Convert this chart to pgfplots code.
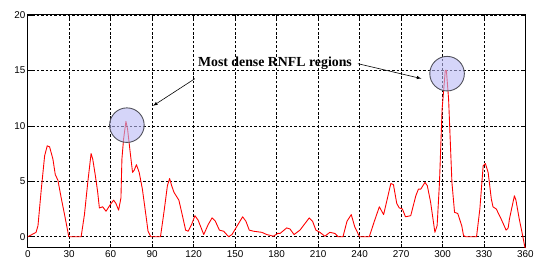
\documentclass[border=0pt]{standalone}
\usepackage{pgfplots}
\pgfplotsset{compat=1.18}
\usepackage{fontspec}
\setmainfont{Liberation Sans}
\newfontfamily\seriffont{Liberation Serif}
\begin{document}
\begin{tikzpicture}
\begin{axis}[
  scale only axis, width=502bp, height=235bp,
  xmin=0, xmax=360, ymin=-1, ymax=20,
  xtick={0,30,...,360}, ytick={0,5,10,15,20},
  grid=major,
  major grid style={black, dashed, line width=0.6pt, dash pattern=on 2.5pt off 2pt},
  axis line style={black, line width=0.8pt},
  tick align=inside, major tick length=4bp,
  tick style={black, line width=0.6pt},
  /pgf/number format/assume math mode=true,
  ticklabel style={font=\fontsize{10}{12}\selectfont},
  xticklabel style={yshift=1bp},
  yticklabel style={xshift=1bp},
  clip=false,
]
\addplot[only marks, mark=*, mark size=17.5,
  mark options={fill={rgb,255:red,185;green,185;blue,245}, fill opacity=0.6, draw={rgb,255:red,80;green,80;blue,90}, line width=0.9pt}]
  coordinates {(71.7,10.06) (303.3,14.7)};
\addplot[red, line width=0.9pt, line join=round] coordinates {
(0,0) (3,0.2) (6,0.4) (7.4,1.0) (9.8,4.3) (12.2,7.3) (14.1,8.2) (15.8,8.1)
(18.2,7.0) (19.9,5.6) (21.8,5.1) (24.2,3.5) (26.6,2.0) (29.7,0) (38.6,0)
(41,2.0) (43.4,4.9) (45.8,7.5) (47,7.0) (48.9,5.5) (50.6,4.0) (51.8,2.6)
(54.2,2.7) (56.6,2.3) (59.7,2.9) (62.1,3.3) (63.8,3.0) (65.7,2.4) (67.4,3.5)
(68.1,7.0) (69.3,8.8) (71,10.4) (72.2,9.7) (74.1,7.6) (75.8,5.8) (77,6.0)
(78.6,6.5) (80.6,5.8) (82.9,4.3) (85.4,2.0) (87,0.5) (89,0) (96,0)
(98.6,2.3) (101,4.6) (102.6,5.25) (104.1,4.6) (105.8,4.0) (109.3,3.3)
(111.7,2.0) (114.2,0.6) (116,0.5) (118.5,1.1) (120.9,1.9) (123.2,1.5)
(127.3,0.2) (130.5,1.1) (133.3,1.7) (135.7,1.4) (138.6,0.6) (141.7,0.5)
(145.3,0) (147.7,0.2) (150.6,0.8) (155.4,1.8) (157.8,1.4) (160.2,0.6)
(163.3,0.5) (169.3,0.4) (172.9,0.2) (177.7,0.05) (180.8,0.3) (182.5,0.3)
(187.3,0.8) (189.7,0.7) (192.6,0.2) (196.9,0.6) (203.6,1.7) (206,1.4)
(208.4,0.6) (211.3,0.4) (214.9,0.05) (218.5,0.4) (222.1,0.3) (224.5,0)
(228,0) (230.9,1.4) (234,2.0) (236.5,0.9) (240,0) (247,0) (250.7,1.4)
(254.3,2.7) (257.4,2.0) (260.2,3.5) (262.6,4.8) (264.5,4.7) (266.9,3.0)
(268.7,2.6) (271,2.5) (273.2,1.8) (277,1.9) (280.7,3.7) (282.6,4.3)
(284.3,4.3) (287.3,4.9) (289,4.6) (291.4,3.1) (294.5,0.4) (296.1,1.0)
(297.8,4.9) (299.7,11.5) (302,15.0) (302.8,15.0) (304.4,12.4) (306.8,4.9)
(308.7,2.2) (311,2.1) (313.9,1.0) (315.2,0.1) (317,0) (324.6,0) (327,2.5)
(329.4,6.4) (331,6.6) (333,5.8) (335.3,3.4) (336.5,2.7) (338.9,2.5)
(342.4,1.6) (346,0.6) (347.5,0.8) (348.4,1.6) (352,3.7) (353.1,3.3)
(355.5,1.6) (357.9,0.15) (359.5,-0.9) (360,-1)
};
\draw[-latex, line width=0.6pt] (axis cs:120.9,14.25) -- (axis cs:90.6,11.8);
\draw[-latex, line width=0.6pt] (axis cs:238.8,15.6) -- (axis cs:284.7,14.26);
\node[font=\seriffont\bfseries\fontsize{14}{16}\selectfont, inner sep=1pt] at (axis cs:178.8,15.6) {Most dense RNFL regions};
\end{axis}
\useasboundingbox (-28bp,-14bp) rectangle (509bp,250bp);
\end{tikzpicture}
\end{document}
